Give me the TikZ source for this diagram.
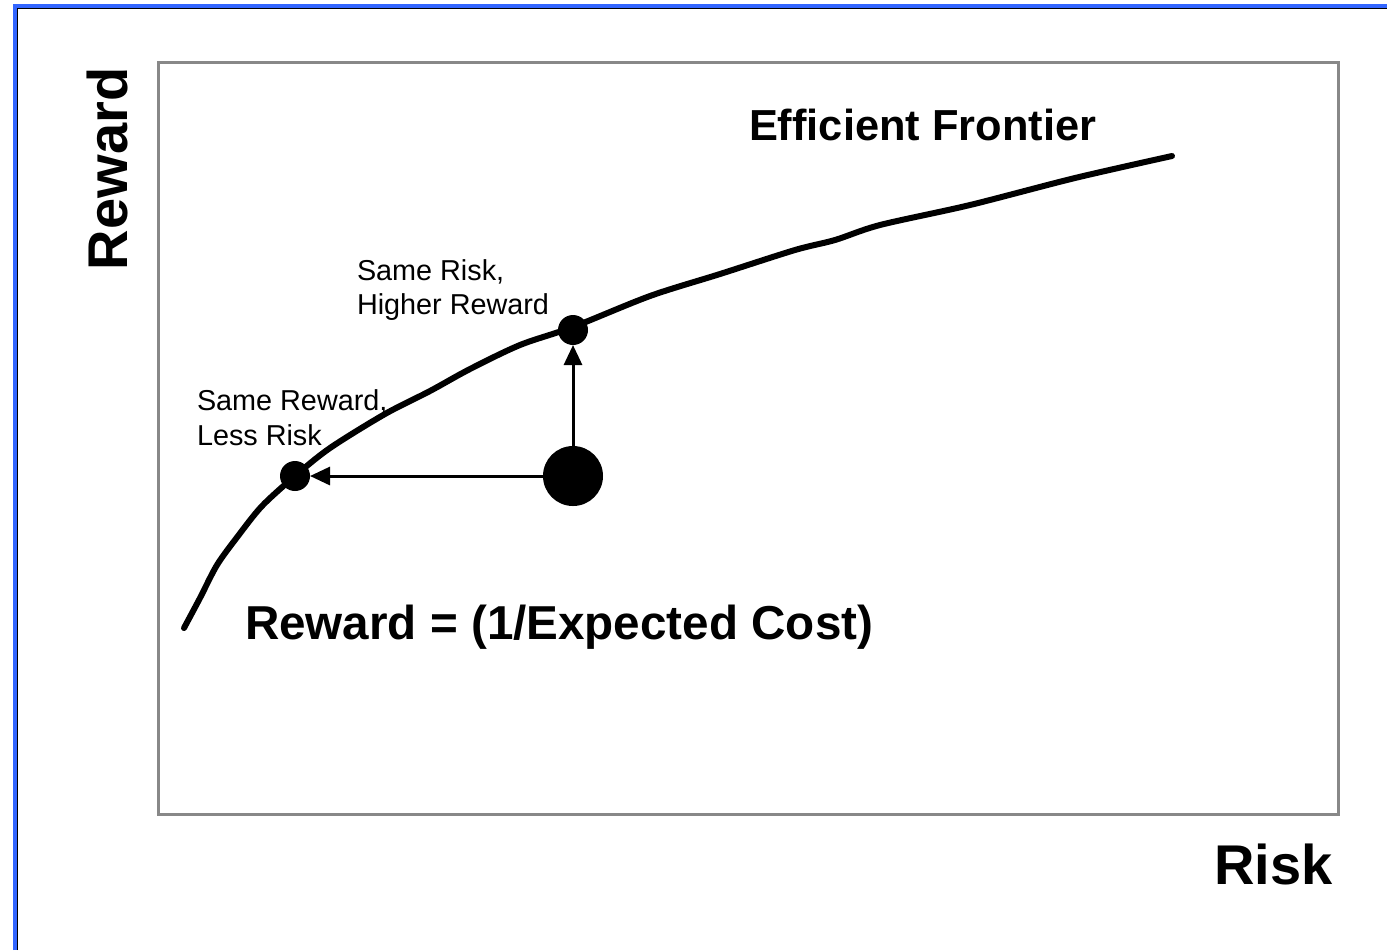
\documentclass[tikz,border=0pt]{standalone}
\usepackage{fontspec}
\setmainfont{Liberation Sans}
\usetikzlibrary{arrows.meta}
\definecolor{frameblue}{RGB}{51,102,255}
\definecolor{boxgray}{RGB}{136,136,136}
\begin{document}
\begin{tikzpicture}[x=0.5pt,y=-0.5pt,
  txt/.style={inner sep=0pt,outer sep=0pt,anchor=base west},
  big/.style={txt,font=\bfseries\fontsize{28}{32}\selectfont},
  mid/.style={txt,font=\bfseries\fontsize{23.8}{28}\selectfont},
  title/.style={txt,font=\bfseries\fontsize{21.7}{26}\selectfont},
  small/.style={txt,font=\fontsize{14.4}{17}\selectfont},
  dot/.style={circle,fill=black,inner sep=0pt,outer sep=0pt},
  move/.style={line width=1.5pt,-{Triangle[length=10pt,width=9pt]}}]
\useasboundingbox (0,0) rectangle (1387,950);
\fill[white] (0,0) rectangle (1387,950);
% slide frame
\draw[frameblue,line width=1.6pt] (15,950) -- (15,6) -- (1387,6);
\draw[black,line width=0.5pt] (17.3,950) -- (17.3,8.3) -- (1387,8.3);
% plot area
\draw[boxgray,line width=1.5pt] (158,62) rectangle (1338,814);
% efficient frontier curve
\draw[line width=3pt,line cap=round,line join=round]
  plot[smooth,tension=0.5] coordinates {(184,628) (200,598) (217,565) (238,536)
  (262,506) (295,476) (330,448) (385,414) (430,391) (470,369) (520,345)
  (573,327) (650,296) (720,274) (795,250) (835,240) (880,225) (970,205)
  (1075,178) (1172,156)};
% points
\node[dot,minimum size=30pt] (cur) at (573,476) {};
\node[dot,minimum size=15pt] (lessrisk) at (295,476) {};
\node[dot,minimum size=15pt] (morereward) at (573,330) {};
\draw[move] (cur) -- (lessrisk);
\draw[move] (cur) -- (morereward);
% labels
\node[big,rotate=90] (yaxis) at (127,270) {Reward};
\node[big] (xaxis) at (1214,884) {Risk};
\node[title] (ef) at (749,140) {Efficient Frontier};
\node[mid] (def) at (245,639) {Reward = (1/Expected Cost)};
\node[small] (srA) at (357,280) {Same Risk,};
\node[small] (srB) at (357,314) {Higher Reward};
\node[small] (lrA) at (197,410) {Same Reward,};
\node[small] (lrB) at (197,445) {Less Risk};
\end{tikzpicture}
\end{document}
